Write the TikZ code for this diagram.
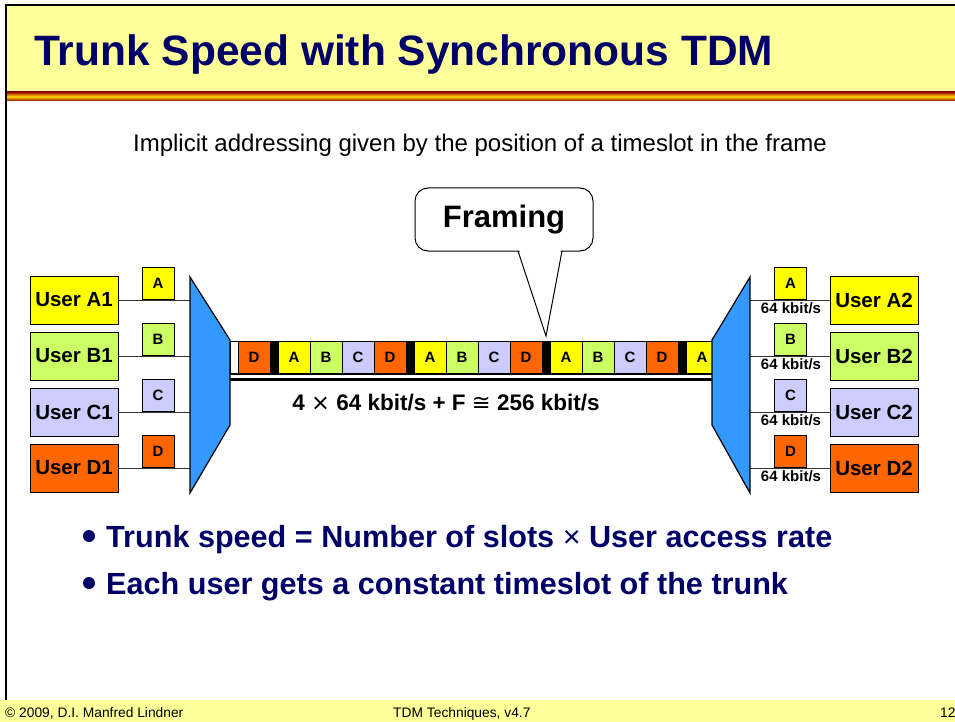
\documentclass[tikz,border=0pt]{standalone}
\usepackage{fontspec}
\setmainfont{Liberation Sans}
\newfontfamily\symfont{DejaVu Sans}
\newcommand{\pxfont}[1]{\fontsize{#1}{#1}\selectfont}

\definecolor{titleblue}{RGB}{0,0,102}
\definecolor{headyellow}{RGB}{255,255,153}
\definecolor{stripered}{RGB}{153,0,0}
\definecolor{stripeyellow}{RGB}{255,221,0}
\definecolor{muxblue}{RGB}{51,153,255}
\definecolor{userA}{RGB}{255,255,0}
\definecolor{userB}{RGB}{204,255,102}
\definecolor{userC}{RGB}{204,204,255}
\definecolor{userD}{RGB}{255,102,0}

\tikzset{
  user/.style={draw, line width=1pt, minimum width=88pt, minimum height=48pt,
    inner sep=0pt, font=\pxfont{20.5}\bfseries},
  slot/.style={draw, line width=1pt, minimum width=32pt, minimum height=32pt,
    inner sep=0pt, font=\pxfont{15}\bfseries},
  wire/.style={line width=1pt, draw=black!80},
  mux/.style={draw, fill=muxblue, line width=1.2pt, line join=miter},
  rate/.style={font=\pxfont{15}\bfseries, inner sep=0pt},
  bullet/.style={anchor=base west, inner sep=0pt, text=titleblue,
    font=\pxfont{30.6}\bfseries},
  foot/.style={anchor=base west, inner sep=0pt, font=\pxfont{13.8}},
}

\begin{document}
\begin{tikzpicture}[x=1pt,y=-1pt]
    \useasboundingbox (0,0) rectangle (955,722);
    %slide header, footer and frame
    \fill[headyellow] (6,5) rectangle (955,92);
    \shade[top color=stripered, bottom color=stripered, middle color=stripeyellow]
        (6,92) rectangle (955,101);
    \fill[headyellow] (0,700) rectangle (955,722);
    \draw[line width=2pt] (6,700) -- (6,5) -- (955,5);
    \node[anchor=base west, inner sep=0pt, text=titleblue, font=\pxfont{42.5}\bfseries]
        (title) at (34,66) {Trunk Speed with Synchronous TDM};
    \node[anchor=base, inner sep=0pt, font=\pxfont{24}]
        (subtitle) at (480,152) {Implicit addressing given by the position of a timeslot in the frame};
    %users on both sides
    \foreach \n/\c [count=\i from 0] in {A/userA,B/userB,C/userC,D/userD}
        {%
            \node[user, fill=\c] (u\n1) at (74,300+56*\i) {User \n1};
            \coordinate (m\n1) at (190,300+56*\i);
            \draw[wire] (u\n1) -- (m\n1);
            \node[slot, fill=\c, anchor=south] (s\n1) at (158,300+56*\i) {\n};
            \node[user, fill=\c] (u\n2) at (874,300+56*\i) {User \n2};
            \coordinate (m\n2) at (750,300+56*\i);
            \draw[wire] (m\n2) -- (u\n2);
            \node[slot, fill=\c, anchor=south] (s\n2) at (790.5,300+56*\i) {\n};
            \node[rate] (r\n2) at (791,308.5+56*\i) {64 kbit/s};
        }
    %trunk with frame bars and timeslots
    \draw[line width=1pt, fill=white] (230,341) rectangle (712,373);
    \node[slot, fill=userD] (t0) at (254,357) {D};
    \foreach \f in {0,1,2,3}
        {%
            \fill (270+136*\f,341) rectangle +(8,32);
        }
    \foreach \f in {0,1,2}
        {%
            \foreach \l/\c [count=\k from 0] in {A/userA,B/userB,C/userC,D/userD}
                \node[slot, fill=\c] at (294+136*\f+32*\k,357) {\l};
        }
    \node[slot, fill=userA] (tA) at (702,357) {A};
    \draw[line width=0.8pt] (230,374.5) -- (712,374.5);
    \draw[line width=3pt] (230,379) -- (712,379);
    \node[inner sep=0pt, font=\pxfont{22.5}\bfseries] (speed) at (446,403)
        {4 {\mdseries\symfont ×} 64 kbit/s + F {\mdseries\symfont ≅} 256 kbit/s};
    %multiplexers
    \draw[mux] (190,277) -- (230,340) -- (230,425) -- (190,493) -- cycle;
    \draw[mux] (712,340) -- (750,277) -- (750,493) -- (712,425) -- cycle;
    %callout for the framing bar
    \node[draw, line width=1pt, rounded corners=13pt, fill=white, minimum width=178pt,
        minimum height=63pt, font=\pxfont{31}\bfseries] (framing) at (504,219.5) {Framing};
    \coordinate (tip) at (546,336);
    \fill[white] (519,249) -- (tip) -- (561,249) -- cycle;
    \draw[line width=1pt, line join=miter] (518,251) -- (tip) -- (562,251);
    %bullets
    \fill[titleblue] (89,536) circle (6);
    \node[bullet] (b1) at (106,547) {Trunk speed = Number of slots {\mdseries ×} User access rate};
    \fill[titleblue] (89,583) circle (6);
    \node[bullet] (b2) at (106,594) {Each user gets a constant timeslot of the trunk};
    %footer texts
    \node[foot] (copy) at (5,717) {© 2009, D.I. Manfred Lindner};
    \node[foot] (topic) at (393,717) {TDM Techniques, v4.7};
    \node[foot] (page) at (940,717) {12};
\end{tikzpicture}
\end{document}
